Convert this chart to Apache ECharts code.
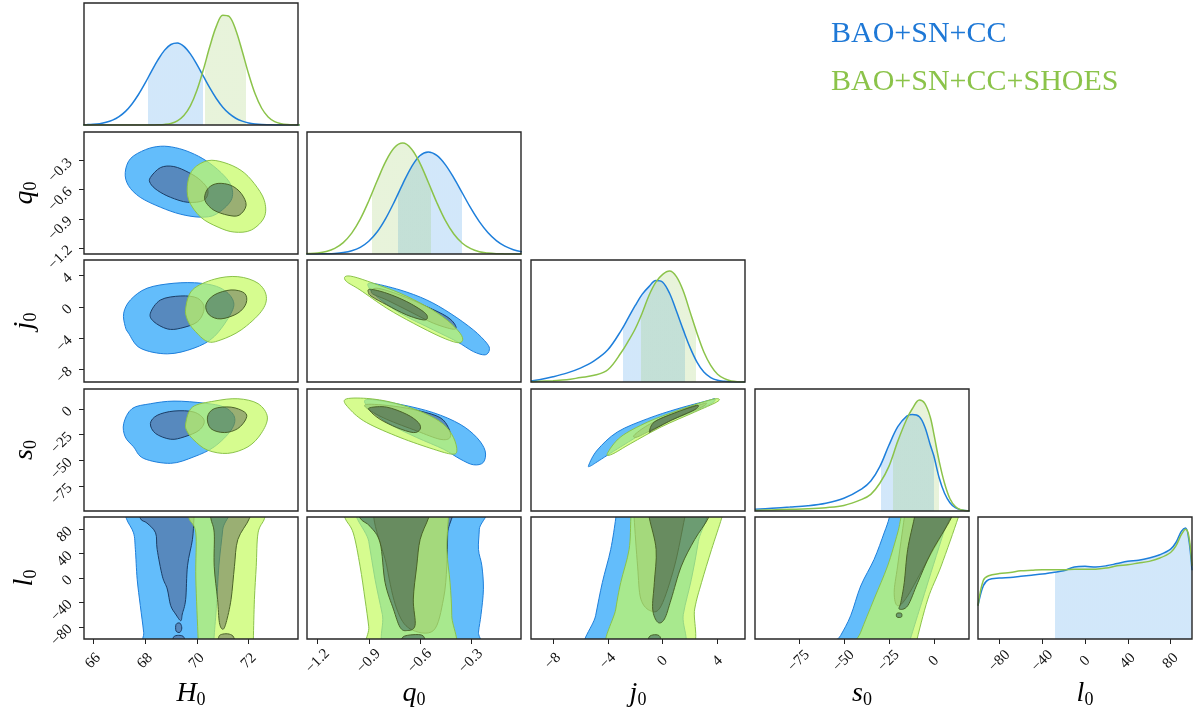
<!DOCTYPE html>
<html>
<head>
<meta charset="utf-8">
<script src="https://cdn.jsdelivr.net/npm/echarts@6/dist/echarts.min.js"></script>
<style>
  html, body { margin: 0; background: #fff; }
  #chart { width: 1194px; height: 723px; }
</style>
</head>
<body>
<div id="chart"></div>
<script>
// ── Parameters, axis ranges and ticks ────────────────────────────────────────
const params = ['H', 'q', 'j', 's', 'l'];
const rangeH = [65.65, 73.9];
const rangeQ = [-1.263, -0.005];
const rangeJ = [-9.6, 6.0];
const rangeS = [-99.4, 19.6];
const rangeL = [-100, 100];
const ticksH = [66, 68, 70, 72];
const ticksQ = [-1.2, -0.9, -0.6, -0.3];
const ticksJ = [-8, -4, 0, 4];
const ticksS = [-75, -50, -25, 0];
const ticksL = [-80, -40, 0, 40, 80];

const chainBlue = 'BAO+SN+CC';
const chainGreen = 'BAO+SN+CC+SHOES';

// ── 1D marginals (peak-normalised densities) ─────────────────────────────────
const gridH = [65.5, 65.75, 66, 66.25, 66.5, 66.75, 67, 67.25, 67.5, 67.75, 68, 68.25, 68.5, 68.75, 69, 69.25,
  69.5, 69.75, 70, 70.25, 70.5, 70.75, 71, 71.25, 71.5, 71.75, 72, 72.25, 72.5, 72.75, 73, 73.25, 73.5, 73.75, 74];
const margH_blue = [0.001, 0.003, 0.006, 0.012, 0.024, 0.044, 0.076, 0.123, 0.19, 0.275, 0.375, 0.484, 0.587, 0.673,
  0.726, 0.739, 0.709, 0.641, 0.547, 0.44, 0.334, 0.239, 0.161, 0.102, 0.061, 0.035, 0.018, 0.009, 0.004, 0.002,
  0.001, 0, 0, 0, 0];
const margH_green = [0, 0, 0, 0, 0, 0, 0, 0, 0, 0, 0, 0, 0.0015, 0.005, 0.014, 0.037, 0.085, 0.172, 0.311, 0.498,
  0.707, 0.889, 0.99, 0.978, 0.857, 0.665, 0.458, 0.279, 0.151, 0.073, 0.031, 0.012, 0.004, 0.001, 0];

const gridQ = [-1.3, -1.25, -1.2, -1.15, -1.1, -1.05, -1.0, -0.95, -0.9, -0.85, -0.8, -0.75, -0.7, -0.65,
  -0.6, -0.55, -0.5, -0.45, -0.4, -0.35, -0.3, -0.25, -0.2, -0.15, -0.1, -0.05, 0];
const margQ_blue = [0, 0, 0.001, 0.002, 0.005, 0.013, 0.029, 0.06, 0.115, 0.2, 0.321, 0.47, 0.633, 0.782,
  0.886, 0.92, 0.889, 0.806, 0.686, 0.55, 0.413, 0.292, 0.194, 0.121, 0.071, 0.039, 0.02];
const margQ_green = [0.001, 0.0035, 0.009, 0.023, 0.051, 0.103, 0.188, 0.314, 0.478, 0.662, 0.835, 0.958, 1.0, 0.95,
  0.822, 0.647, 0.464, 0.303, 0.18, 0.097, 0.048, 0.021, 0.009, 0.003, 0.001, 0, 0];

const gridJ = [-9.6, -9, -8, -7, -6, -5, -4, -3, -2.5, -2, -1.5, -1, -0.5, 0, 0.5, 1, 1.5, 2, 2.5, 3, 3.5, 4, 4.5, 5, 6];
const margJ_blue = [0.008, 0.02, 0.047, 0.08, 0.125, 0.19, 0.29, 0.47, 0.58, 0.69, 0.79, 0.86, 0.915, 0.9, 0.8,
  0.64, 0.47, 0.31, 0.18, 0.09, 0.04, 0.015, 0.006, 0.002, 0];
const margJ_green = [0.003, 0.006, 0.012, 0.02, 0.04, 0.06, 0.11, 0.27, 0.37, 0.48, 0.62, 0.78, 0.9, 0.97, 1.0,
  0.95, 0.82, 0.63, 0.44, 0.27, 0.15, 0.07, 0.03, 0.01, 0];

const gridS = [-99.4, -90, -80, -70, -60, -50, -40, -35, -30, -25, -20, -15, -12, -8, -5, -2, 0, 3, 6, 9, 12, 15, 20];
const margS_blue = [0.015, 0.025, 0.035, 0.047, 0.07, 0.115, 0.2, 0.27, 0.4, 0.59, 0.76, 0.855, 0.87, 0.85, 0.76,
  0.6, 0.5, 0.3, 0.16, 0.075, 0.03, 0.01, 0];
const margS_green = [0.005, 0.01, 0.015, 0.02, 0.03, 0.05, 0.105, 0.15, 0.25, 0.4, 0.63, 0.83, 0.92, 1.0, 0.97,
  0.85, 0.7, 0.45, 0.25, 0.11, 0.04, 0.012, 0];

const gridL = [-100, -95, -90, -80, -70, -60, -50, -40, -30, -20, -10, 0, 10, 20, 30, 40, 50, 60, 70, 80, 85, 90, 94, 97, 100];
const margL_blue = [0.3, 0.48, 0.535, 0.55, 0.555, 0.565, 0.575, 0.585, 0.6, 0.615, 0.65, 0.655, 0.65, 0.66, 0.68,
  0.7, 0.71, 0.73, 0.76, 0.81, 0.87, 0.97, 1.0, 0.9, 0.62];
const margL_green = [0.3, 0.53, 0.57, 0.59, 0.6, 0.615, 0.62, 0.625, 0.625, 0.625, 0.63, 0.63, 0.63, 0.64, 0.66,
  0.67, 0.685, 0.7, 0.73, 0.78, 0.84, 0.94, 0.99, 0.93, 0.66];

// 68% credible intervals shaded under the marginals (null = not shaded)
const bandH = { blue: [68.13, 70.23], green: [70.31, 71.88] };
const bandQ = { blue: [-0.726, -0.349], green: [-0.879, -0.534] };
const bandJ = { blue: [-2.89, 1.6], green: [-1.59, 2.44] };
const bandS = { blue: [-29.4, 0.4], green: [-22.9, 2.9] };
const bandL = { blue: [-28.5, 100], green: null };

// ── 2D contours: vertices (data units) of the 95% (b2/g2) and 68% (b1/g1) levels
const contHQ = {
  b2: [[[67.24, -0.423], [67.44, -0.28], [68.02, -0.187], [68.6, -0.152], [69.18, -0.167], [69.77, -0.218], [70.35, -0.3], [70.93, -0.423], [71.32, -0.556], [71.32, -0.709], [70.74, -0.853], [70.15, -0.883], [69.38, -0.853], [68.6, -0.781], [67.82, -0.679], [67.36, -0.556]]],
  b1: [[[68.21, -0.474], [68.6, -0.372], [69.11, -0.361], [69.69, -0.423], [70.15, -0.505], [70.43, -0.607], [70.27, -0.709], [69.65, -0.73], [68.99, -0.679], [68.48, -0.607], [68.21, -0.535]]],
  g2: [[[69.65, -0.525], [69.88, -0.382], [70.43, -0.3], [71.05, -0.32], [71.71, -0.402], [72.21, -0.535], [72.6, -0.709], [72.6, -0.883], [72.1, -1.016], [71.44, -1.037], [70.82, -0.986], [70.15, -0.883], [69.69, -0.709]]],
  g1: [[[70.31, -0.658], [70.47, -0.576], [70.82, -0.535], [71.32, -0.556], [71.71, -0.638], [71.9, -0.761], [71.63, -0.863], [71.2, -0.863], [70.66, -0.812], [70.35, -0.73]]]
};
const contHJ = {
  b2: [[[67.18, -0.8], [67.44, 0.89], [68.08, 2.39], [69.12, 3.03], [70.15, 3.03], [70.93, 2.39], [71.39, 0.89], [71.32, -0.8], [70.67, -3.79], [69.89, -5.27], [68.86, -6.0], [67.82, -5.27], [67.37, -3.36], [67.24, -2.5]]],
  b1: [[[68.21, -0.8], [68.6, 0.89], [69.38, 1.4], [70.03, 1.11], [70.28, -0.17], [70.03, -1.88], [69.38, -2.72], [68.86, -2.81], [68.34, -1.88]]],
  g2: [[[69.57, -0.17], [69.83, 2.17], [70.67, 3.54], [71.58, 3.87], [72.36, 3.03], [72.68, 1.32], [72.48, -0.6], [71.71, -2.94], [70.93, -4.21], [70.41, -4.43], [69.89, -2.94], [69.64, -1.66]]],
  g1: [[[70.35, 0.26], [70.67, 1.53], [71.32, 2.17], [71.84, 1.75], [71.9, 0.47], [71.58, -0.8], [70.93, -1.53], [70.48, -1.02]]]
};
const contHS = {
  b2: [[[67.18, -14.1], [67.5, 0.4], [68.21, 5.2], [69.12, 7.8], [70.28, 5.8], [71.06, 1.9], [71.45, -7.8], [71.32, -20.6], [70.67, -36.8], [69.89, -46.5], [68.99, -52.9], [67.95, -48.1], [67.56, -36.8], [67.24, -27.1]]],
  b1: [[[68.21, -14.1], [68.47, -6.1], [69.12, -1.9], [69.89, -2.9], [70.28, -10.9], [70.09, -20.6], [69.51, -27.1], [68.99, -29.4], [68.41, -23.8]]],
  g2: [[[69.57, -14.1], [69.83, 1.9], [70.67, 7.8], [71.58, 10.1], [72.36, 5.2], [72.72, -7.8], [72.48, -23.8], [71.97, -36.8], [71.19, -43.2], [70.41, -40], [69.89, -30.3], [69.64, -22.3]]],
  g1: [[[70.41, -7.8], [70.67, 0.4], [71.32, 1.9], [71.84, -2.9], [71.9, -9.3], [71.58, -19], [71.06, -22.9], [70.54, -19]]]
};
const contHL = {
  b2: [[[67.2, 125], [67.28, 98], [67.56, 74], [67.63, 47], [67.7, -2], [67.82, -45], [67.95, -89], [68.02, -125], [70.64, -125], [70.66, -100], [70.75, -50], [70.85, 20], [71.0, 80], [71.1, 125]]],
  b1: [[[67.76, 125], [67.82, 98], [68.08, 90], [68.41, 74], [68.47, 47], [68.67, 3], [68.86, -18], [68.99, -45], [69.18, -59], [69.38, -70], [69.44, -59], [69.57, -35], [69.64, 20], [69.83, 63], [69.89, 98], [69.93, 125]],
       [[69.2, -76], [69.35, -74], [69.42, -82], [69.35, -89], [69.2, -87]],
       [[69.1, -97], [69.3, -94], [69.5, -97], [69.5, -110], [69.1, -110]]],
  g2: [[[69.65, 125], [69.7, 98], [69.96, 74], [69.96, 0], [70.05, -100], [70.06, -125], [72.18, -125], [72.18, -100], [72.22, -35], [72.29, 19], [72.36, 74], [72.61, 98], [72.68, 125]]],
  g1: [[[70.5, 125], [70.54, 98], [70.67, 74], [70.67, 19], [70.8, -35], [70.87, -73], [71.0, -84], [71.13, -73], [71.32, -35], [71.45, 19], [71.58, 63], [72.03, 98], [72.12, 125]],
       [[70.85, -96], [71.0, -92], [71.25, -92], [71.42, -97], [71.42, -110], [70.85, -110]]]
};
const contQJ = {
  b2: [[[-0.882, 3.03], [-0.716, 2.17], [-0.559, 0.89], [-0.422, -0.8], [-0.285, -2.94], [-0.206, -4.64], [-0.191, -5.49], [-0.216, -6.13], [-0.285, -5.71], [-0.382, -4.43], [-0.52, -2.94], [-0.716, -0.8], [-0.853, 1.32], [-0.902, 2.59]]],
  b1: [[[-0.853, 2.39], [-0.716, 1.53], [-0.559, 0.04], [-0.441, -1.24], [-0.392, -2.3], [-0.402, -2.85], [-0.52, -2.08], [-0.657, -0.6], [-0.794, 0.89], [-0.882, 1.75]]],
  g2: [[[-1.039, 3.87], [-0.991, 3.87], [-0.873, 3.03], [-0.716, 1.75], [-0.559, 0.04], [-0.441, -1.66], [-0.363, -3.36], [-0.349, -4.3], [-0.382, -4.56], [-0.481, -3.79], [-0.638, -2.08], [-0.794, -0.17], [-0.951, 2.17], [-1.03, 3.23]]],
  g1: [[[-0.892, 2.26], [-0.794, 1.75], [-0.677, 0.68], [-0.579, -0.6], [-0.555, -1.32], [-0.579, -1.66], [-0.677, -1.02], [-0.794, 0.26], [-0.882, 1.32], [-0.902, 1.83]]]
};
const contQS = {
  b2: [[[-0.912, 9.4], [-0.716, 4.6], [-0.52, -3.5], [-0.363, -14.8], [-0.265, -27.7], [-0.216, -40.7], [-0.226, -51.9], [-0.285, -54.3], [-0.363, -48.7], [-0.461, -39.1], [-0.618, -27.7], [-0.775, -14.8], [-0.892, -0.3]]],
  b1: [[[-0.912, 4.6], [-0.755, 2.9], [-0.598, -1.9], [-0.481, -8.3], [-0.432, -18], [-0.422, -27.7], [-0.481, -29.4], [-0.618, -21.3], [-0.794, -10], [-0.902, -0.3]]],
  g2: [[[-1.039, 9.4], [-0.912, 10.4], [-0.755, 6.2], [-0.579, -3.5], [-0.461, -14.8], [-0.402, -27.7], [-0.382, -40.7], [-0.412, -43.9], [-0.52, -39.1], [-0.716, -27.7], [-0.912, -13.2], [-1.01, -0.3]]],
  g1: [[[-0.892, 1.4], [-0.794, 1.9], [-0.677, -5.1], [-0.608, -13.2], [-0.598, -19.7], [-0.638, -22.9], [-0.735, -18], [-0.833, -10], [-0.892, -1.9]]]
};
const contJS = {
  b2: [[[-5.39, -54.6], [-4.77, -40], [-3.3, -22.3], [-1.09, -9.3], [1.11, 0.4], [3.32, 8.4], [3.8, 10.1], [3.56, 5.5], [1.85, -4.5], [-0.61, -17.4], [-3.06, -36.8], [-4.77, -51.4], [-5.26, -55.5]]],
  b1: [[[-2.08, -25.5], [-1.09, -15.8], [0.62, -4.5], [2.58, 3.6], [3.19, 5.8], [2.83, 1.9], [1.11, -7.8], [-0.61, -19], [-1.83, -27.1]]],
  g2: [[[-4.03, -43.2], [-3.06, -27.1], [-1.09, -12.6], [1.11, -1.3], [3.32, 8.4], [4.05, 10.1], [3.93, 6.8], [2.33, -2.9], [-0.11, -17.4], [-2.32, -33.5], [-3.67, -43.9]]],
  g1: [[[-0.97, -22.3], [-0.61, -12.6], [0.86, -3.9], [2.46, 3.6], [2.33, -0.6], [0.62, -11], [-0.73, -20.6]]]
};
const contQL = {
  b2: [[[-0.941, 125], [-0.9, 60], [-0.863, -2.1], [-0.82, -60], [-0.775, -125], [-0.265, -125], [-0.255, -88.8], [-0.24, -60], [-0.226, -18.4], [-0.235, 20], [-0.255, 46.7], [-0.25, 80], [-0.245, 125]]],
  b1: [[[-0.853, 125], [-0.794, 19.5], [-0.735, -50.9], [-0.657, -83.4], [-0.52, -86.2], [-0.461, -34.6], [-0.441, 19.5], [-0.436, 73.8], [-0.43, 125]]],
  g2: [[[-1.06, 125], [-1.039, 98.2], [-0.991, 73.8], [-0.951, 19.5], [-0.922, -34.6], [-0.9, -80], [-0.885, -125], [-0.418, -125], [-0.412, -61.8], [-0.422, -7.5], [-0.441, 46.7], [-0.432, 98.2], [-0.426, 125]]],
  g1: [[[-0.975, 125], [-0.951, 98.2], [-0.892, 84.6], [-0.833, 57.6], [-0.804, -7.5], [-0.755, -50.9], [-0.716, -80.7], [-0.677, -86.2], [-0.628, -78], [-0.638, -34.6], [-0.618, 19.5], [-0.598, 63], [-0.549, 98.2], [-0.52, 125]],
       [[-0.70, -97], [-0.64, -93], [-0.58, -95], [-0.58, -110], [-0.7, -110]]]
};
const contJL = {
  b2: [[[-3.3, 125], [-3.42, 98.2], [-3.79, 46.7], [-4.4, -7.5], [-4.89, -61.8], [-5.45, -125], [1.15, -125], [1.5, -60], [2.09, -2.1], [2.6, 60], [2.95, 125]]],
  b1: [[[-2.12, 125], [-2.08, 98.2], [-1.83, 19.5], [-1.59, -34.6], [-0.85, -54.1], [-0.11, -45.5], [0.86, 19.5], [1.6, 98.2], [1.85, 125]]],
  g2: [[[-2.22, 125], [-2.32, 98.2], [-2.45, 46.7], [-3.06, -7.5], [-3.42, -50.9], [-3.9, -125], [1.83, -125], [2.33, -50.9], [2.83, -7.5], [3.56, 46.7], [4.3, 98.2], [4.6, 125]]],
  g1: [[[-1.1, 125], [-0.97, 98.2], [-0.48, 46.7], [-0.61, -7.5], [-0.73, -50.9], [-0.36, -72.5], [0.13, -67.2], [0.62, -34.6], [1.36, 19.5], [2.33, 63], [3.32, 98.2], [3.6, 125]],
       [[-1.0, -97], [-0.6, -93], [-0.2, -96], [-0.2, -110], [-1.0, -110]]]
};
const contSL = {
  b2: [[[-23.2, 125], [-24.8, 98.2], [-27.6, 73.8], [-33.2, 30.4], [-40.6, -13], [-46.2, -61.8], [-51.8, -94.3], [-58, -125], [-15, -125], [-13.8, -107.8], [-3, -5], [7.9, 98.2], [9.7, 125]]],
  b1: [[[-15, 125], [-16.4, 98.2], [-20.1, 19.5], [-22, -23.7], [-20.1, -45.5], [-14.5, -29.3], [-3.3, 30.4], [7.9, 90], [11, 125]]],
  g2: [[[-16.2, 125], [-18.3, 98.2], [-20.1, 73.8], [-25.7, 19.5], [-33.2, -34.6], [-40.6, -88.8], [-45, -125], [-10.7, -125], [-9.9, -107.8], [-3.3, -34.6], [4.1, 19.5], [13.5, 98.2], [16, 125]]],
  g1: [[[-9.2, 125], [-10.8, 98.2], [-14.5, 46.7], [-16.4, -7.5], [-18.3, -40], [-19.2, -50.9], [-14.5, -45.5], [-8.9, -7.5], [-1.5, 41.3], [9.7, 98.2], [12, 125]],
       [[-20.5, -58], [-18, -58], [-18, -64], [-20.5, -64]]]
};

// ── Lookups ──────────────────────────────────────────────────────────────────
const ranges = { H: rangeH, q: rangeQ, j: rangeJ, s: rangeS, l: rangeL };
const ticks = { H: ticksH, q: ticksQ, j: ticksJ, s: ticksS, l: ticksL };
const marginals = {
  H: [gridH, margH_blue, margH_green, bandH],
  q: [gridQ, margQ_blue, margQ_green, bandQ],
  j: [gridJ, margJ_blue, margJ_green, bandJ],
  s: [gridS, margS_blue, margS_green, bandS],
  l: [gridL, margL_blue, margL_green, bandL]
};
const contours = {
  'q,H': contHQ, 'j,H': contHJ, 's,H': contHS, 'l,H': contHL,
  'j,q': contQJ, 's,q': contQS, 'l,q': contQL,
  's,j': contJS, 'l,j': contJL, 'l,s': contSL
};

// ── Styling ──────────────────────────────────────────────────────────────────
const colLeft = [84, 307, 531, 755, 978];
const rowTop = [3, 132, 260, 389, 517];
const panelW = 214, panelH = 122;
const serif = 'Liberation Serif';

const blueLine = '#1E7FDB', greenLine = '#8BC34A';
const blueOuterFill = 'rgb(99,189,251)', blueInnerFill = 'rgb(87,137,190)';
const blueInnerLine = '#1B3D66';
const greenOuterFill = 'rgba(197,251,97,0.707)', greenInnerFill = 'rgba(112,142,56,0.707)';
const greenInnerLine = '#4B6426';

const nameRich = {
  v: { fontFamily: serif, fontStyle: 'italic', fontSize: 28, lineHeight: 30, color: '#000' },
  s: { fontFamily: serif, fontSize: 18, lineHeight: 16, verticalAlign: 'bottom', color: '#000' }
};
const axisName = p => '{v|' + p + '}{s|0}';
const fmt = v => String(v).replace('-', '\u2212');

// closed Catmull-Rom spline through pixel points, as SVG path data
function closedSpline(pts) {
  const n = pts.length;
  const f = v => v.toFixed(2);
  let d = 'M' + f(pts[0][0]) + ',' + f(pts[0][1]);
  for (let i = 0; i < n; i++) {
    const p0 = pts[(i - 1 + n) % n], p1 = pts[i], p2 = pts[(i + 1) % n], p3 = pts[(i + 2) % n];
    d += 'C' + [p1[0] + (p2[0] - p0[0]) / 6, p1[1] + (p2[1] - p0[1]) / 6,
      p2[0] - (p3[0] - p1[0]) / 6, p2[1] - (p3[1] - p1[1]) / 6, p2[0], p2[1]].map(f).join(',');
  }
  return d + 'Z';
}
function orient(pts, sign) {
  let a = 0;
  for (let i = 0; i < pts.length; i++) {
    const p = pts[i], q = pts[(i + 1) % pts.length];
    a += p[0] * q[1] - q[0] * p[1];
  }
  return Math.sign(a) === sign ? pts : pts.slice().reverse();
}

function contourRenderer(cont) {
  return function (params, api) {
    const px = polys => polys.map(poly => poly.map(p => api.coord(p)));
    const b2 = px(cont.b2), b1 = px(cont.b1), g2 = px(cont.g2), g1 = px(cont.g1);
    const children = [];
    const add = (d, style) => children.push({ type: 'path', shape: { pathData: d }, style });
    b2.forEach(p => add(closedSpline(p), { fill: blueOuterFill, stroke: blueLine, lineWidth: 1 }));
    b1.forEach(p => add(closedSpline(p), { fill: blueInnerFill, stroke: blueInnerLine, lineWidth: 1 }));
    // outer green band with the inner region cut out (like contourf bands)
    const ring = g2.map(p => closedSpline(orient(p, 1))).join(' ') + ' ' +
      g1.map(p => closedSpline(orient(p, -1))).join(' ');
    add(ring, { fill: greenOuterFill, stroke: null });
    g2.forEach(p => add(closedSpline(p), { fill: 'none', stroke: greenLine, lineWidth: 1 }));
    g1.forEach(p => add(closedSpline(p), { fill: greenInnerFill, stroke: greenInnerLine, lineWidth: 1 }));
    const cs = params.coordSys;
    return {
      type: 'group', children,
      clipPath: { type: 'rect', shape: { x: cs.x, y: cs.y, width: cs.width, height: cs.height } }
    };
  };
}

// ── Build grids, axes and series ─────────────────────────────────────────────
const grids = [], xAxes = [], yAxes = [], series = [], visualMaps = [];

function xAxisFor(i, p, bottom) {
  return {
    type: 'value', gridIndex: i, min: ranges[p][0], max: ranges[p][1],
    axisLine: { show: false, onZero: false }, splitLine: { show: false },
    axisTick: { show: bottom, customValues: ticks[p], length: 5, lineStyle: { color: '#222' } },
    axisLabel: {
      show: bottom, customValues: ticks[p], rotate: 45, align: 'center', verticalAlign: 'middle',
      margin: 22, formatter: fmt, fontFamily: serif, fontSize: 15, color: '#111'
    },
    name: bottom ? axisName(p) : '', nameLocation: 'middle', nameGap: 40,
    nameTextStyle: { fontSize: 28, rich: nameRich }
  };
}
function yAxisFor(i, p, left) {
  return {
    type: 'value', gridIndex: i, min: ranges[p][0], max: ranges[p][1],
    axisLine: { show: false, onZero: false }, splitLine: { show: false },
    axisTick: { show: left, customValues: ticks[p], length: 5, lineStyle: { color: '#222' } },
    axisLabel: {
      show: left, customValues: ticks[p], rotate: 45, margin: 14,
      formatter: fmt, fontFamily: serif, fontSize: 15, color: '#111'
    },
    name: left ? axisName(p) : '', nameLocation: 'middle', nameRotate: 90, nameGap: 44,
    nameTextStyle: { fontSize: 28, rich: nameRich }
  };
}

let gi = 0;
for (let r = 0; r < 5; r++) {
  for (let c = 0; c <= r; c++) {
    grids.push({
      left: colLeft[c], top: rowTop[r], width: panelW, height: panelH,
      show: true, borderColor: '#262626', borderWidth: 1.4, z: 5
    });
    const px = params[c], py = params[r];
    xAxes.push(xAxisFor(gi, px, r === 4));
    if (r === c) {
      yAxes.push({
        type: 'value', gridIndex: gi, min: 0, max: 1.1, show: false
      });
      const [xs, blue, green, band] = marginals[px];
      [[chainBlue, blue, blueLine, band.blue, 'rgba(30,136,229,0.2)'],
       [chainGreen, green, greenLine, band.green, 'rgba(139,195,74,0.2)']].forEach(([name, ys, col, iv, fill]) => {
        const si = series.length;
        series.push({
          type: 'line', name, xAxisIndex: gi, yAxisIndex: gi, smooth: 0.35, symbol: 'none',
          lineStyle: { color: col, width: 1.5 }, itemStyle: { color: col },
          areaStyle: iv ? { opacity: 1 } : undefined,
          data: xs.map((x, k) => [x, ys[k]]), silent: true
        });
        if (iv) {
          visualMaps.push({
            type: 'piecewise', show: false, dimension: 0, seriesIndex: si,
            pieces: [{ gte: iv[0], lte: iv[1], color: fill }],
            outOfRange: { color: 'rgba(0,0,0,0)' }
          });
        }
      });
    } else {
      yAxes.push(yAxisFor(gi, py, c === 0));
      series.push({
        type: 'custom', xAxisIndex: gi, yAxisIndex: gi, clip: true, silent: true,
        data: [[0, 0]], renderItem: contourRenderer(contours[py + ',' + px])
      });
    }
    gi++;
  }
}

const chart = echarts.init(document.getElementById('chart'));
chart.setOption({
  animation: false,
  backgroundColor: '#fff',
  grid: grids, xAxis: xAxes, yAxis: yAxes, visualMap: visualMaps, series,
  legend: {
    orient: 'vertical', left: 821, top: 14, itemWidth: 0, itemHeight: 0, itemGap: 18,
    selectedMode: false, icon: 'rect',
    textStyle: { fontFamily: serif, fontSize: 30 },
    data: [
      { name: chainBlue, textStyle: { color: '#1E78D6' } },
      { name: chainGreen, textStyle: { color: '#8BC34A' } }
    ]
  }
});
</script>
</body>
</html>
